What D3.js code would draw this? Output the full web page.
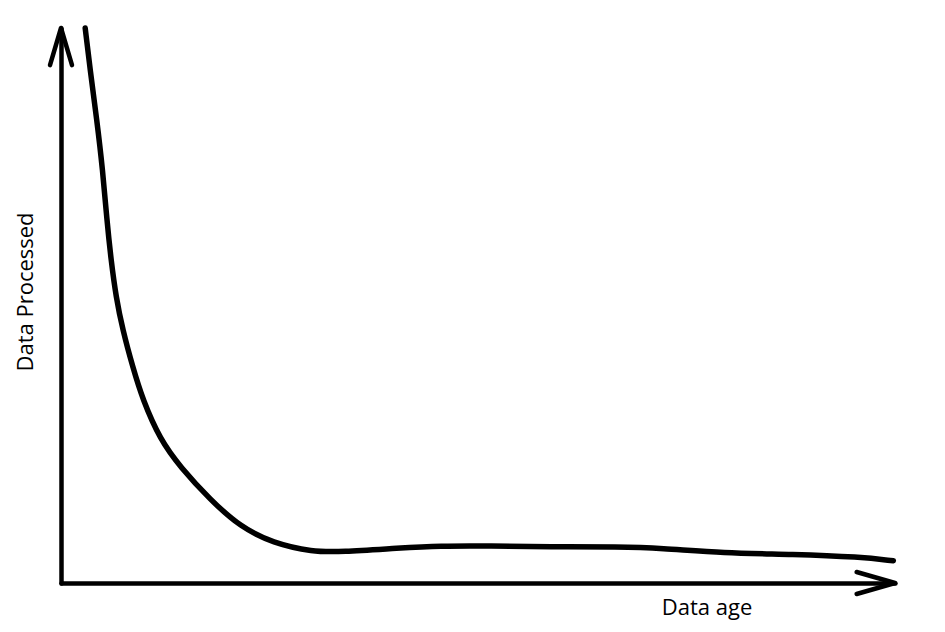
<!DOCTYPE html>
<html>
<head>
<meta charset="utf-8">
<script src="https://cdn.jsdelivr.net/npm/d3@7"></script>
<style>
  body { margin: 0; background: #fff; }
  .axis path { stroke: #000; stroke-width: 4.5; stroke-linecap: round; }
  .label { font-family: "Open Sans", sans-serif; font-size: 22px; fill: #000; }
</style>
</head>
<body>
<script>
//curve (age vs processed, both 0-100)
var ageValues = [2.9, 3.5, 4.3, 5.0, 5.5, 6.0, 6.6, 7.4, 8.6, 9.8, 11.9, 14.3, 17.9, 21.5, 25.4, 30.2, 33.5,
                 40.6, 45.4, 51.4, 58.6, 67.0, 71.8, 79.4, 87.8, 95.8, 99.8];
var processedValues = [100, 92.4, 83.4, 74.4, 65.4, 58.2, 51.5, 45.6, 38.9, 33.0, 25.8, 20.9, 15.0, 10.1, 7.2, 5.6, 5.6,
                       6.3, 6.7, 6.7, 6.5, 6.5, 6.3, 5.4, 5.2, 4.7, 4.0];
var xLabel = "Data age",
    yLabel = "Data Processed";

window.onload = drawChart();

function drawChart(){
    var width = 945,
        height = 632;

    var svg = d3.select("body")
        .append("svg")
        .attr("width", width)
        .attr("height", height);

    //plot area: y axis at x=61, x axis at y=583
    var x = d3.scaleLinear().domain([0, 100]).range([61, 895]);
    var y = d3.scaleLinear().domain([0, 100]).range([583, 28]);

    //axes without ticks, just the lines
    svg.append("g")
        .attr("class", "axis")
        .attr("transform", "translate(0," + y(0) + ")")
        .call(d3.axisBottom(x).tickValues([]).tickSizeOuter(0));

    svg.append("g")
        .attr("class", "axis")
        .attr("transform", "translate(" + x(0) + ",0)")
        .call(d3.axisLeft(y).tickValues([]).tickSizeOuter(0));

    //arrow heads
    var arrow = d3.line();
    svg.append("path")
        .attr("d", arrow([[x(0) - 11, y(93.3)], [x(0), y(100)], [x(0) + 11, y(93.3)]]))
        .attr("fill", "none")
        .attr("stroke", "#000")
        .attr("stroke-width", 4.5)
        .attr("stroke-linecap", "round")
        .attr("stroke-linejoin", "round");

    svg.append("path")
        .attr("d", arrow([[x(95.4), y(0) - 11], [x(100), y(0)], [x(95.4), y(0) + 11]]))
        .attr("fill", "none")
        .attr("stroke", "#000")
        .attr("stroke-width", 4.5)
        .attr("stroke-linecap", "round")
        .attr("stroke-linejoin", "round");

    //the curve
    var points = ageValues.map(function(d, i){ return [d, processedValues[i]]; });
    var line = d3.line()
        .x(function(d){ return x(d[0]); })
        .y(function(d){ return y(d[1]); })
        .curve(d3.curveBasis);

    svg.append("path")
        .datum(points)
        .attr("d", line)
        .attr("fill", "none")
        .attr("stroke", "#000")
        .attr("stroke-width", 5.5)
        .attr("stroke-linecap", "round")
        .attr("stroke-linejoin", "round");

    //labels
    svg.append("text")
        .attr("class", "label")
        .attr("x", 707)
        .attr("y", 615)
        .attr("text-anchor", "middle")
        .text(xLabel);

    svg.append("text")
        .attr("class", "label")
        .attr("transform", "translate(33,292) rotate(-90)")
        .attr("text-anchor", "middle")
        .text(yLabel);
}
</script>
</body>
</html>
